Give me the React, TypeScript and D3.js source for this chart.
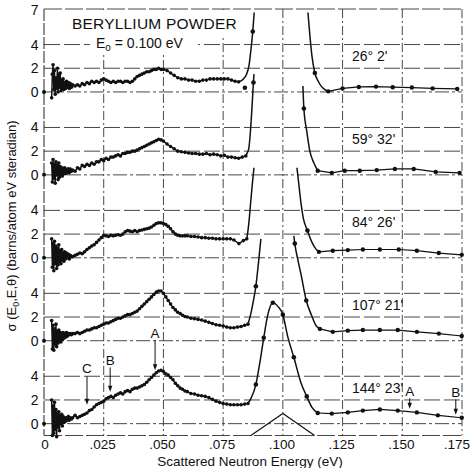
import React from "react";
import * as d3 from "d3";

type P = [number, number];

const W = 471;
const H = 468;

const xTicks = [0, 0.025, 0.05, 0.075, 0.1, 0.125, 0.15, 0.175];
const xTickLabels = ["0", ".025", ".050", ".075", ".100", ".125", ".150", ".175"];
const yGridValues = [0, 2, 4];
const angleLabels = ["26\u00b0 2'", "59\u00b0 32'", "84\u00b0 26'", "107\u00b0 21'", "144\u00b0 23'"];
const PANEL_STEP = 7;

// ---------- Panel 1 (26° 2') ----------
const p1Left: P[] = [
  [0.0032, -0.5], [0.0035, 1.5], [0.0038, 2.3], [0.0041, 0.2], [0.0044, 1.8], [0.0047, -0.2], [0.005, 1.2],
  [0.0053, 0.3], [0.0056, 2.0], [0.0059, 0.0], [0.0062, 1.5], [0.0065, 0.4], [0.0068, 1.6], [0.0071, 0.1],
  [0.0074, 1.0], [0.0077, 0.3], [0.008, 1.1], [0.0083, 0.2], [0.0086, 0.8], [0.009, 0.3], [0.0094, 0.9],
  [0.0098, 0.4], [0.0102, 0.8], [0.0106, 0.3], [0.011, 0.7], [0.0115, 0.4], [0.012, 0.6],
  [0.013, 0.5], [0.014, 0.6], [0.015, 0.5], [0.016, 0.7], [0.017, 0.6], [0.018, 0.8], [0.019, 0.7],
  [0.02, 0.9], [0.021, 0.8], [0.022, 0.9], [0.023, 0.8], [0.024, 1.0], [0.025, 1.1], [0.026, 1.0],
  [0.027, 0.9], [0.028, 0.8], [0.029, 0.9], [0.03, 0.8], [0.031, 0.9], [0.032, 0.9], [0.033, 0.8],
  [0.034, 0.9], [0.035, 0.9], [0.036, 0.8], [0.037, 0.9], [0.038, 1.1], [0.039, 1.3], [0.04, 1.4],
  [0.041, 1.5], [0.042, 1.6], [0.043, 1.7], [0.044, 1.7], [0.045, 1.8], [0.046, 1.9], [0.047, 1.9],
  [0.048, 2.0], [0.049, 1.9], [0.05, 1.9], [0.0515, 1.8], [0.053, 1.6], [0.0545, 1.4], [0.056, 1.2],
  [0.0575, 1.1], [0.059, 1.1], [0.0605, 1.0], [0.062, 1.0], [0.0635, 0.9], [0.065, 0.9], [0.0665, 1.0],
  [0.068, 1.0], [0.0695, 1.1], [0.071, 1.1], [0.0725, 1.1], [0.074, 1.1], [0.0755, 1.1], [0.077, 1.1],
  [0.0785, 1.0], [0.08, 0.9], [0.0815, 0.85],
];
const p1Rise: P[] = [[0.0815, 0.85], [0.0835, 1.1], [0.0848, 1.5], [0.0858, 2.2], [0.0866, 3.5], [0.0874, 5.1], [0.088, 6.7]];
const p1Fall: P[] = [[0.1105, 6.7], [0.1113, 4.8], [0.1122, 3.0], [0.1134, 1.6], [0.1148, 0.9], [0.1162, 0.45], [0.1176, 0.2], [0.119, 0.05]];
const p1Marks: P[] = [[0.0841, 0.35], [0.0874, 5.1], [0.1134, 1.6]];
const p1Right: P[] = [[0.119, 0.05], [0.125, 0.3], [0.1318, 0.42], [0.139, 0.45], [0.146, 0.4], [0.154, 0.37], [0.1627, 0.3], [0.173, 0.25]];

// ---------- Panel 2 (59° 32') ----------
const p2Left: P[] = [
  [0.0032, 1.0], [0.0035, -0.6], [0.0038, 1.3], [0.0041, -0.3], [0.0044, 0.9], [0.0047, -0.7], [0.005, 1.1],
  [0.0053, 0.0], [0.0056, 0.8], [0.0059, -0.4], [0.0062, 1.0], [0.0065, -0.2], [0.0068, 0.7], [0.0071, 0.0],
  [0.0074, 0.6], [0.0077, -0.1], [0.008, 0.5], [0.0083, 0.1], [0.0086, 0.6], [0.009, 0.1], [0.0094, 0.5],
  [0.0098, 0.2], [0.0102, 0.5], [0.0106, 0.2], [0.011, 0.5], [0.0115, 0.3], [0.012, 0.4],
  [0.013, 0.3], [0.014, 0.6], [0.015, 0.5], [0.016, 0.8], [0.017, 0.7], [0.018, 0.9], [0.019, 0.8],
  [0.02, 1.0], [0.021, 0.9], [0.022, 1.1], [0.023, 1.1], [0.024, 1.3], [0.025, 1.2], [0.026, 1.4],
  [0.027, 1.3], [0.028, 1.5], [0.029, 1.5], [0.03, 1.6], [0.031, 1.7], [0.032, 1.6], [0.033, 1.8],
  [0.034, 1.8], [0.035, 1.9], [0.036, 1.9], [0.037, 2.0], [0.038, 2.0], [0.039, 2.1], [0.04, 2.2],
  [0.041, 2.3], [0.042, 2.4], [0.043, 2.5], [0.044, 2.6], [0.045, 2.7], [0.046, 2.8], [0.047, 2.9],
  [0.048, 3.0], [0.049, 2.95], [0.05, 2.85], [0.0515, 2.6], [0.053, 2.4], [0.0545, 2.2], [0.056, 2.0],
  [0.0575, 1.95], [0.059, 1.9], [0.0605, 1.85], [0.062, 1.8], [0.0635, 1.8], [0.065, 1.75], [0.0665, 1.75],
  [0.068, 1.8], [0.0695, 1.7], [0.071, 1.75], [0.0725, 1.7], [0.074, 1.6], [0.0755, 1.65], [0.077, 1.5],
  [0.0785, 1.5], [0.08, 1.45], [0.0815, 1.4], [0.083, 1.5], [0.0845, 1.6],
];
const p2Rise: P[] = [[0.0845, 1.6], [0.0852, 1.9], [0.0858, 2.3], [0.0864, 3.6], [0.087, 5.4], [0.0875, 7.2], [0.0879, 8.5]];
const p2Fall: P[] = [[0.1084, 7.5], [0.1088, 5.6], [0.11, 3.7], [0.1113, 2.0], [0.113, 1.0], [0.1146, 0.35]];
const p2Marks: P[] = [[0.0877, 7.8], [0.1088, 5.6]];
const p2Right: P[] = [[0.1146, 0.35], [0.1205, 0.17], [0.1259, 0.35], [0.1322, 0.35], [0.1393, 0.4], [0.1469, 0.5], [0.1548, 0.5], [0.164, 0.25], [0.174, 0.17]];

// ---------- Panel 3 (84° 26') ----------
const p3Left: P[] = [
  [0.0032, 1.6], [0.0035, -0.8], [0.0038, 1.2], [0.0041, -1.1], [0.0044, 1.4], [0.0047, -0.5], [0.005, 1.0],
  [0.0053, -0.9], [0.0056, 0.8], [0.0059, -0.6], [0.0062, 1.1], [0.0065, -0.3], [0.0068, 0.6], [0.0071, -0.5],
  [0.0074, 0.7], [0.0077, -0.2], [0.008, 0.4], [0.0083, -0.3], [0.0086, 0.5], [0.009, -0.1], [0.0094, 0.4],
  [0.0098, 0.0], [0.0102, 0.3], [0.0106, -0.1], [0.011, 0.2], [0.0115, 0.1], [0.012, 0.1],
  [0.013, 0.2], [0.014, 0.3], [0.015, 0.4], [0.016, 0.35], [0.017, 0.5], [0.018, 0.7], [0.019, 0.85],
  [0.02, 1.0], [0.021, 1.1], [0.022, 1.3], [0.023, 1.5], [0.024, 1.7], [0.025, 1.9], [0.026, 1.85],
  [0.027, 1.8], [0.028, 1.9], [0.029, 1.85], [0.03, 1.9], [0.031, 1.95], [0.032, 1.9], [0.033, 2.0],
  [0.034, 2.2], [0.035, 2.3], [0.036, 2.25], [0.037, 2.2], [0.038, 2.3], [0.039, 2.2], [0.04, 2.3],
  [0.041, 2.35], [0.042, 2.4], [0.043, 2.45], [0.044, 2.5], [0.045, 2.6], [0.046, 2.75], [0.047, 2.9],
  [0.048, 2.95], [0.049, 2.95], [0.05, 2.9], [0.051, 2.8], [0.052, 2.65], [0.053, 2.45], [0.054, 2.2],
  [0.055, 2.0], [0.056, 1.9], [0.057, 1.85], [0.058, 1.85], [0.059, 1.85], [0.06, 1.85], [0.0615, 1.8],
  [0.063, 1.8], [0.0645, 1.75], [0.066, 1.7], [0.0675, 1.7], [0.069, 1.65], [0.0705, 1.65], [0.072, 1.6],
  [0.0735, 1.6], [0.075, 1.6], [0.0765, 1.6], [0.078, 1.6], [0.0795, 1.5], [0.0816, 1.2], [0.0835, 1.45],
  [0.0849, 1.6],
];
const p3Rise: P[] = [[0.0849, 1.6], [0.0857, 2.8], [0.0865, 4.6], [0.0872, 6.2], [0.0879, 7.6]];
const p3Fall: P[] = [[0.1059, 7.6], [0.1068, 6.0], [0.1076, 4.6], [0.1086, 3.3], [0.1103, 2.3], [0.1122, 1.3], [0.1138, 0.75], [0.1151, 0.5]];
const p3Marks: P[] = [[0.1103, 2.3]];
const p3Right: P[] = [[0.1151, 0.5], [0.1209, 0.6], [0.1272, 0.65], [0.1335, 0.7], [0.1406, 0.7], [0.1485, 0.7], [0.1561, 0.6], [0.1653, 0.4], [0.1749, 0.25]];

// ---------- Panel 4 (107° 21') ----------
const p4Left: P[] = [
  [0.0032, 1.7], [0.0035, -0.7], [0.0038, 1.3], [0.0041, -0.8], [0.0044, 1.0], [0.0047, -0.3], [0.005, 1.4],
  [0.0053, -0.5], [0.0056, 0.8], [0.0059, -0.2], [0.0062, 0.9], [0.0065, 0.0], [0.0068, 0.7], [0.0071, -0.1],
  [0.0074, 0.6], [0.0077, 0.1], [0.008, 0.7], [0.0083, 0.2], [0.0086, 0.6], [0.009, 0.3], [0.0094, 0.7],
  [0.0098, 0.4], [0.0102, 0.6], [0.0106, 0.5], [0.011, 0.6], [0.0115, 0.5], [0.012, 0.6],
  [0.013, 0.6], [0.014, 0.7], [0.015, 0.6], [0.016, 0.7], [0.017, 0.8], [0.018, 0.9], [0.019, 0.9],
  [0.02, 1.0], [0.021, 1.1], [0.022, 1.1], [0.023, 1.2], [0.024, 1.3], [0.025, 1.4], [0.026, 1.5],
  [0.027, 1.5], [0.028, 1.6], [0.029, 1.7], [0.03, 1.8], [0.031, 1.9], [0.032, 1.9], [0.033, 2.0],
  [0.034, 2.1], [0.035, 2.2], [0.036, 2.2], [0.037, 2.3], [0.038, 2.4], [0.039, 2.5], [0.04, 2.7],
  [0.041, 2.9], [0.042, 3.1], [0.043, 3.3], [0.044, 3.5], [0.045, 3.7], [0.046, 3.9], [0.047, 4.1],
  [0.048, 4.2], [0.049, 4.2], [0.05, 4.0], [0.051, 3.7], [0.052, 3.4], [0.053, 3.1], [0.054, 2.8],
  [0.055, 2.6], [0.056, 2.4], [0.057, 2.3], [0.058, 2.15], [0.059, 2.05], [0.06, 2.0], [0.0615, 1.9],
  [0.063, 1.85], [0.0645, 1.8], [0.066, 1.75], [0.0675, 1.65], [0.069, 1.55], [0.0705, 1.45], [0.072, 1.35],
  [0.0735, 1.3], [0.075, 1.25], [0.0765, 1.15], [0.078, 1.1], [0.0795, 1.1], [0.081, 1.15], [0.0825, 1.2],
  [0.084, 1.3], [0.0854, 1.4],
];
const p4Rise: P[] = [[0.0854, 1.4], [0.0865, 2.2], [0.0876, 3.3], [0.0887, 4.6], [0.0897, 6.4], [0.0908, 8.6]];
const p4Fall: P[] = [[0.1046, 8.85], [0.105, 8.2], [0.1062, 6.9], [0.1075, 5.7], [0.1098, 3.4], [0.1121, 2.1], [0.1138, 1.3], [0.1155, 1.0]];
const p4Marks: P[] = [[0.0887, 4.6], [0.105, 8.2], [0.1098, 3.4]];
const p4Right: P[] = [[0.1155, 1.0], [0.1209, 0.75], [0.1272, 0.85], [0.1335, 0.9], [0.1406, 0.9], [0.1481, 0.9], [0.1561, 0.75], [0.1653, 0.6], [0.1749, 0.4]];

// ---------- Panel 5 (144° 23') ----------
const p5Left: P[] = [
  [0.0032, 2.0], [0.0035, -1.0], [0.0038, 1.5], [0.0041, -0.8], [0.0044, 1.8], [0.0047, -0.5], [0.005, 1.2],
  [0.0053, -1.1], [0.0056, 0.9], [0.0059, -0.3], [0.0062, 1.0], [0.0065, -0.6], [0.0068, 0.7], [0.0071, 0.0],
  [0.0074, 0.8], [0.0077, -0.2], [0.008, 0.6], [0.0083, 0.1], [0.0086, 0.5], [0.009, 0.2], [0.0094, 0.5],
  [0.0098, 0.3], [0.0102, 0.6], [0.0106, 0.3], [0.011, 0.5], [0.0115, 0.4], [0.012, 0.5],
  [0.013, 0.7], [0.014, 0.5], [0.015, 0.6], [0.016, 0.7], [0.017, 0.8], [0.018, 0.9], [0.019, 1.1],
  [0.02, 1.2], [0.021, 1.4], [0.022, 1.6], [0.023, 1.7], [0.024, 1.8], [0.025, 1.9], [0.026, 2.1],
  [0.027, 2.2], [0.028, 2.3], [0.029, 2.2], [0.03, 2.4], [0.031, 2.5], [0.032, 2.6], [0.033, 2.5],
  [0.034, 2.7], [0.035, 2.8], [0.036, 2.7], [0.037, 2.9], [0.038, 3.0], [0.039, 3.0], [0.04, 3.1],
  [0.041, 3.2], [0.042, 3.3], [0.043, 3.5], [0.044, 3.7], [0.045, 3.9], [0.046, 4.1], [0.047, 4.3],
  [0.048, 4.45], [0.049, 4.5], [0.05, 4.4], [0.051, 4.2], [0.052, 4.1], [0.053, 3.9], [0.054, 3.7],
  [0.055, 3.4], [0.056, 3.2], [0.057, 3.0], [0.058, 2.9], [0.059, 2.75], [0.06, 2.7], [0.0615, 2.55],
  [0.063, 2.5], [0.0645, 2.4], [0.066, 2.35], [0.0675, 2.3], [0.069, 2.2], [0.0705, 2.05], [0.072, 1.9],
  [0.0735, 1.8], [0.075, 1.7], [0.0765, 1.65], [0.078, 1.6], [0.0795, 1.6], [0.081, 1.6], [0.0825, 1.6],
  [0.084, 1.65], [0.0854, 1.7],
];
const p5Peak: P[] = [
  [0.0854, 1.7], [0.0868, 2.2], [0.0887, 3.3], [0.0904, 5.2], [0.092, 7.25], [0.0937, 9.2], [0.0958, 10.2],
  [0.0979, 9.9], [0.1, 9.2], [0.1021, 7.3], [0.1046, 5.6], [0.1075, 3.5], [0.11, 2.3], [0.1121, 1.4], [0.1146, 0.9],
];
const p5Marks: P[] = [[0.0887, 3.3], [0.092, 7.25], [0.0958, 10.2], [0.1, 9.2], [0.1046, 5.6], [0.11, 2.3]];
const p5Right: P[] = [[0.1146, 0.9], [0.1205, 0.85], [0.1272, 0.95], [0.1335, 1.1], [0.1406, 1.2], [0.1481, 1.1], [0.1561, 0.95], [0.1649, 0.7], [0.1749, 0.5]];

// resolution triangle (bottom panel units)
const triangle: P[] = [[0.0866, -1], [0.1, 0.85], [0.1133, -1]];

// arrows in bottom panel: label, x, label value, arrow start, arrow tip
const arrowLabels = ["C", "B", "A", "A", "B"];
const arrowX = [0.018, 0.0277, 0.0465, 0.1531, 0.1724];
const arrowLabelY = [4.7, 5.4, 7.65, 2.75, 2.7];
const arrowFrom = [4.0, 4.75, 7.05, 2.15, 2.05];
const arrowTo = [1.6, 2.7, 4.5, 1.25, 0.75];

const panels = [
  { left: p1Left, rises: [p1Rise, p1Fall], marks: p1Marks, right: p1Right },
  { left: p2Left, rises: [p2Rise, p2Fall], marks: p2Marks, right: p2Right },
  { left: p3Left, rises: [p3Rise, p3Fall], marks: p3Marks, right: p3Right },
  { left: p4Left, rises: [p4Rise, p4Fall], marks: p4Marks, right: p4Right },
  { left: p5Left, rises: [p5Peak], marks: p5Marks, right: p5Right },
];

const FONT = "'Liberation Sans', Arial, Helvetica, sans-serif";

export default function App() {
  const x = d3.scaleLinear().domain([0, 0.175]).range([44, 462]);
  const y = d3.scaleLinear().domain([-1, 35]).range([435.5, 9]);
  const py = (k: number, v: number) => y(v + PANEL_STEP * (4 - k));

  const lineFor = (k: number) =>
    d3.line<P>().x((d) => x(d[0])).y((d) => py(k, d[1]));
  const smoothFor = (k: number) => lineFor(k).curve(d3.curveMonotoneX);

  const x0 = x(0);
  const x1 = x(0.175);
  const yTop = y(35);
  const yBot = y(-1);

  const tickLabelX = (t: number, i: number) => {
    if (i === 0) return { xx: x(t) + 1, anchor: "middle" };
    if (i === xTicks.length - 1) return { xx: 470, anchor: "end" };
    return { xx: x(t) - 1, anchor: "middle" };
  };

  return (
    <svg
      width={W}
      height={H}
      viewBox={`0 0 ${W} ${H}`}
      style={{ position: "absolute", left: 0, top: 0, background: "#fff" }}
      fontFamily={FONT}
    >
      <rect x={0} y={0} width={W} height={H} fill="#fff" />

      {/* horizontal gridlines */}
      {panels.map((_, k) =>
        yGridValues.map((v) => (
          <line
            key={`h${k}-${v}`}
            x1={x0}
            x2={x1}
            y1={py(k, v)}
            y2={py(k, v)}
            stroke="#333"
            strokeWidth={0.9}
            strokeDasharray={v === 0 ? "14 3 3 3" : "16 4"}
          />
        ))
      )}
      {/* top / bottom frame */}
      <line x1={x0} x2={x1} y1={yTop} y2={yTop} stroke="#333" strokeWidth={0.9} strokeDasharray="18 3" />
      <line x1={x0} x2={x1} y1={yBot} y2={yBot} stroke="#333" strokeWidth={0.9} strokeDasharray="18 3" />

      {/* vertical gridlines */}
      {xTicks.slice(1).map((t) => (
        <line
          key={`v${t}`}
          x1={x(t)}
          x2={x(t)}
          y1={yTop}
          y2={yBot}
          stroke="#333"
          strokeWidth={0.9}
          strokeDasharray="9 3 2 3"
        />
      ))}
      {/* left axis */}
      <line x1={x0} x2={x0} y1={yTop} y2={yBot} stroke="#222" strokeWidth={1} strokeDasharray="12 2" />

      {/* white boxes behind title */}
      <rect x={60} y={yTop + 1} width={182} height={25} fill="#fff" />
      <rect x={90} y={yTop + 25} width={108} height={19} fill="#fff" />

      {/* y tick labels */}
      {panels.map((_, k) =>
        yGridValues.map((v) => (
          <text
            key={`yl${k}-${v}`}
            x={38.5}
            y={py(k, v) + 5}
            textAnchor="end"
            fontSize={14}
            fill="#111"
          >
            {v}
          </text>
        ))
      )}
      <text x={38.5} y={yTop + 6} textAnchor="end" fontSize={14} fill="#111">
        7
      </text>
      {panels.map((_, k) => (
        <circle key={`z${k}`} cx={x0} cy={py(k, 0)} r={2} fill="#111" />
      ))}

      {/* x tick labels */}
      {xTicks.map((t, i) => {
        const { xx, anchor } = tickLabelX(t, i);
        return (
          <text key={`xl${t}`} x={xx} y={448.5} textAnchor={anchor} fontSize={13.5} fill="#111">
            {xTickLabels[i]}
          </text>
        );
      })}
      <text x={250} y={466} textAnchor="middle" fontSize={13.5} fill="#111">
        Scattered Neutron Energy (eV)
      </text>

      {/* y axis label */}
      <text
        transform="translate(16, 226) rotate(-90)"
        textAnchor="middle"
        fontSize={13}
        fill="#111"
      >
        {"\u03c3 (E"}
        <tspan fontSize={9} dy={3}>0</tspan>
        <tspan dy={-3}>{",E,\u03b8) (barns/atom eV steradian)"}</tspan>
      </text>

      {/* title */}
      <text x={72} y={28.5} fontSize={15.5} fill="#111" letterSpacing={0.2}>
        BERYLLIUM POWDER
      </text>
      <text x={96} y={48} fontSize={14} fill="#111">
        E<tspan fontSize={10} dy={3}>o</tspan>
        <tspan dy={-3}>{" = 0.100  eV"}</tspan>
      </text>

      {/* angle labels */}
      {angleLabels.map((a, k) => (
        <text key={a} x={352} y={py(k, 3) + 5} fontSize={14} fill="#111">
          {a}
        </text>
      ))}

      {/* data */}
      {panels.map((p, k) => {
        const ln = lineFor(k);
        const sm = smoothFor(k);
        return (
          <g key={`d${k}`}>
            <path d={ln(p.left) || ""} fill="none" stroke="#111" strokeWidth={1.4} />
            {p.left.map((d, i) => (
              <circle key={`l${i}`} cx={x(d[0])} cy={py(k, d[1])} r={1.8} fill="#111" />
            ))}
            {p.rises.map((r, i) => (
              <path key={`r${i}`} d={sm(r) || ""} fill="none" stroke="#111" strokeWidth={1.5} />
            ))}
            {p.marks.map((d, i) => (
              <circle key={`m${i}`} cx={x(d[0])} cy={py(k, d[1])} r={2.3} fill="#111" />
            ))}
            <path d={ln(p.right) || ""} fill="none" stroke="#111" strokeWidth={1.2} />
            {p.right.map((d, i) => (
              <circle key={`t${i}`} cx={x(d[0])} cy={py(k, d[1])} r={2.2} fill="#111" />
            ))}
          </g>
        );
      })}

      {/* resolution triangle */}
      <path d={lineFor(4)(triangle) || ""} fill="none" stroke="#111" strokeWidth={1.2} />

      {/* arrows */}
      {arrowLabels.map((lab, i) => {
        const ax = x(arrowX[i]);
        const yFrom = py(4, arrowFrom[i]);
        const yTo = py(4, arrowTo[i]);
        return (
          <g key={`a${i}`}>
            <text x={ax} y={py(4, arrowLabelY[i]) + 5} textAnchor="middle" fontSize={13.5} fill="#111">
              {lab}
            </text>
            <line x1={ax} x2={ax} y1={yFrom} y2={yTo - 4} stroke="#111" strokeWidth={1} />
            <path d={`M${ax - 2.2},${yTo - 6} L${ax + 2.2},${yTo - 6} L${ax},${yTo} Z`} fill="#111" />
          </g>
        );
      })}
    </svg>
  );
}
